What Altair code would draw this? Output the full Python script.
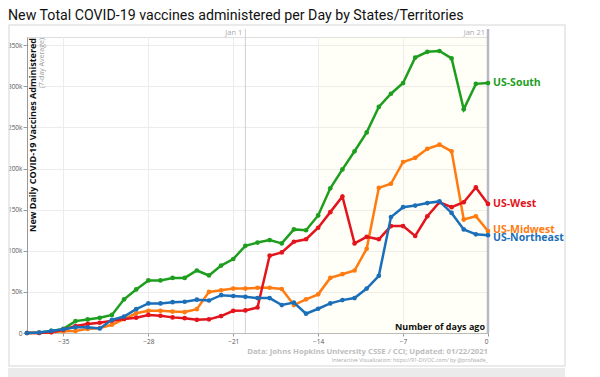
import altair as alt
import pandas as pd

days = list(range(-38, 1))
regions = ["US-South", "US-West", "US-Midwest", "US-Northeast"]
colors = ["#1e9e1e", "#e3141c", "#ff7b10", "#1b6fb8"]

# values in thousands, day -38 .. 0
south = [0, 0.5, 2.5, 5, 14.5, 16.5, 18.5, 22, 41, 53,
         64, 64, 67, 67, 76, 70, 82, 90, 106, 110,
         113, 109, 126, 125, 143, 176, 199, 221, 244, 275,
         291, 304, 335, 342, 343, 334, 272, 303, 304]
west = [0, 0, 1, 4, 8.5, 11, 12.5, 15, 17, 18.6,
        22, 21, 19, 18, 16, 16.6, 20.6, 27, 27.5, 31,
        94, 98, 111, 114, 128, 147, 166, 109, 117, 114,
        130, 130, 118, 142, 159, 153, 159, 177, 157]
midwest = [0, 0, 1, 2, 2.5, 5, 6, 10, 17, 24,
           27, 27, 26, 25.5, 29, 50, 52, 54, 54, 55,
           55, 53.5, 34, 41, 47, 67, 71.5, 76, 102.5, 176.5,
           181.5, 208, 213, 224, 229, 221, 138, 142, 124]
northeast = [0, 0.5, 2.5, 4.5, 7, 7, 5.5, 16, 20, 29,
             36, 36, 37.5, 38, 40.5, 39.5, 46, 45, 44, 42.5,
             42.5, 34, 37, 23.5, 29.5, 36, 40, 42.5, 54, 69.5,
             141, 153, 155, 158, 160, 146, 126, 120, 119]

x_ticks = [-35, -28, -21, -14, -7, 0]
y_ticks = [0, 50000, 100000, 150000, 200000, 250000, 300000, 350000]

series = dict(zip(regions, [south, west, midwest, northeast]))
rows = []
for r in regions:
    for d, v in zip(days, series[r]):
        rows.append({"day": d, "value": v * 1000, "region": r})
df = pd.DataFrame(rows)

W, H = 461, 296
FONT = "Open Sans"

xs = alt.Scale(domain=[-38, 0], nice=False, zero=False)
ys = alt.Scale(domain=[0, 360000], nice=False)
cs = alt.Scale(domain=regions, range=colors)

xax = alt.Axis(values=x_ticks, title=None, labelFontSize=6.5, labelColor="#555",
               labelFont=FONT, tickSize=3, tickColor="#999", domainColor="#bbb",
               gridColor="#ececec", labelPadding=2)
yax = alt.Axis(values=y_ticks, title=None, labelFontSize=6.5, labelColor="#555",
               labelFont=FONT, tickSize=4, tickColor="#999", domainColor="#999",
               gridColor="#ececec", labelPadding=1,
               labelExpr="datum.value == 0 ? '0' : (datum.value / 1000) + 'k'")

def note(text, **kw):
    return alt.Chart(pd.DataFrame({"t": [text]})).mark_text(text=text, **kw)

card = alt.Chart(pd.DataFrame({"a": [0]})).mark_rect(
    fill="transparent", stroke="#e4e4e4", strokeWidth=1.5).encode(
    x=alt.value(-18), x2=alt.value(538), y=alt.value(-12), y2=alt.value(329))
band = alt.Chart(pd.DataFrame({"a": [0]})).mark_rect(fill="#ebebeb").encode(
    x=alt.value(-19), x2=alt.value(538), y=alt.value(331), y2=alt.value(345))

hl = alt.Chart(pd.DataFrame({"a": [-14], "b": [0]})).mark_rect(
    fill="#fff6c0", opacity=0.12).encode(
    x=alt.X("a:Q", scale=xs, axis=xax), x2="b:Q",
    y=alt.value(0), y2=alt.value(H))

base = alt.Chart(df).encode(
    x=alt.X("day:Q", scale=xs, axis=xax),
    y=alt.Y("value:Q", scale=ys, axis=yax),
    color=alt.Color("region:N", scale=cs, legend=None),
)

jan1 = alt.Chart(pd.DataFrame({"d": [-20]})).mark_rule(color="#cfcfd6", strokeWidth=1).encode(
    x=alt.X("d:Q", scale=xs), y=alt.value(-8), y2=alt.value(H))
jan21 = alt.Chart(pd.DataFrame({"d": [0]})).mark_rule(color="#b9b8c6", strokeWidth=2.5).encode(
    x=alt.X("d:Q", scale=xs), y=alt.value(-8), y2=alt.value(H))
jan1_t = alt.Chart(pd.DataFrame({"d": [-20], "t": ["Jan 1"]})).mark_text(
    align="right", baseline="alphabetic", dx=-3, fontSize=7.5, color="#aaa", font=FONT).encode(
    x=alt.X("d:Q", scale=xs), y=alt.value(-2), text="t:N")
jan21_t = alt.Chart(pd.DataFrame({"d": [0], "t": ["Jan 21"]})).mark_text(
    align="right", baseline="alphabetic", dx=-3, fontSize=7.5, color="#aaa", font=FONT).encode(
    x=alt.X("d:Q", scale=xs), y=alt.value(-2), text="t:N")

order = ["US-South", "US-Midwest", "US-West", "US-Northeast"]
data_layers = []
for r in order:
    sub = base.transform_filter(alt.datum.region == r)
    data_layers.append(sub.mark_line(strokeWidth=2.5))
    data_layers.append(sub.mark_point(filled=True, size=22, opacity=1))

label_dy = {"US-South": 0, "US-West": 0, "US-Midwest": -1, "US-Northeast": 3}
label_layers = []
for r in regions:
    label_layers.append(
        base.transform_filter((alt.datum.region == r) & (alt.datum.day == 0))
        .mark_text(align="left", baseline="middle", dx=5, dy=label_dy[r],
                   fontSize=10.5, fontWeight="bold", font=FONT)
        .encode(text="region:N")
    )

title = note("New Total COVID-19 vaccines administered per Day by States/Territories",
             align="left", baseline="alphabetic", fontSize=14.2, color="#111",
             font="Roboto", fontWeight="normal").encode(x=alt.value(-19), y=alt.value(-17))

ytitle = note("New Daily COVID-19 Vaccines Administered", angle=270, align="right",
              baseline="middle", fontSize=9, fontWeight="bold", color="#111",
              font=FONT).encode(x=alt.value(6), y=alt.value(1))
ysub = note("(7-day Average)", angle=270, align="right", baseline="middle",
            fontSize=7, color="#999", font=FONT).encode(x=alt.value(15), y=alt.value(1))
xlab = note("Number of days ago", align="right", baseline="alphabetic", fontSize=9,
            fontWeight="bold", color="#111", font=FONT).encode(x=alt.value(458), y=alt.value(293))
foot1 = note("Data: Johns Hopkins University CSSE / CCI; Updated: 01/22/2021",
             align="right", baseline="alphabetic", fontSize=7.7, fontWeight="bold",
             color="#bdbdbd", font=FONT).encode(x=alt.value(W), y=alt.value(317))
foot2 = note("Interactive Visualization: https://91-DIVOC.com/ by @profwade_",
             align="right", baseline="alphabetic", fontSize=5.3,
             color="#aaa", font=FONT).encode(x=alt.value(W), y=alt.value(325))

chart = alt.layer(
    card, band, hl, jan1, jan21, jan1_t, jan21_t,
    *data_layers, *label_layers,
    title, ytitle, ysub, xlab, foot1, foot2,
).properties(
    width=W, height=H,
    autosize=alt.AutoSizeParams(type="none"),
    padding={"left": 19, "top": 29, "right": 100, "bottom": 44},
).configure_view(stroke=None).configure(background="white")

chart.save("out.html", embed_options={"renderer": "svg", "actions": False})
